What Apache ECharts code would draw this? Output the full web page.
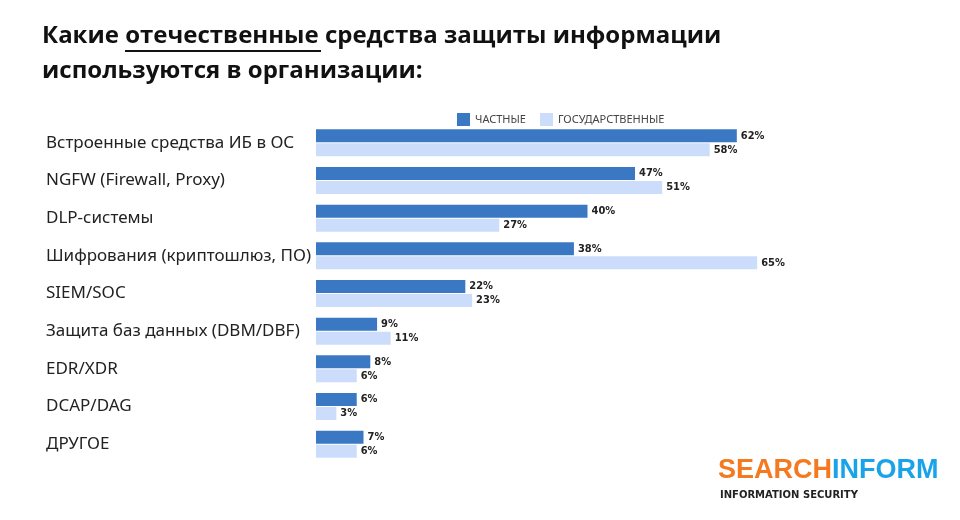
<!DOCTYPE html><html><head><meta charset="utf-8"><script src="https://cdn.jsdelivr.net/npm/echarts@6/dist/echarts.min.js"></script>
<style>html,body{margin:0;background:#fff}#c{width:960px;height:520px}</style></head><body><div id="c"></div><script>
const categories=["Встроенные средства ИБ в ОС","NGFW (Firewall, Proxy)","DLP-системы","Шифрования (криптошлюз, ПО)","SIEM/SOC","Защита баз данных (DBM/DBF)","EDR/XDR","DCAP/DAG","ДРУГОЕ"];
const privateVals=[62,47,40,38,22,9,8,6,7];
const stateVals=[58,51,27,65,23,11,6,3,6];
const c=echarts.init(document.getElementById('c'));
const lbl={show:true,position:'right',distance:4,formatter:'{c}%',fontFamily:'DejaVu Sans Condensed',fontWeight:'bold',fontSize:11,color:'#222'};
c.setOption({animation:false,
legend:{top:108,left:452,icon:'rect',itemWidth:13,itemHeight:13,itemGap:14,textStyle:{fontFamily:'Noto Sans',fontSize:11,color:'#444'},data:['ЧАСТНЫЕ','ГОСУДАРСТВЕННЫЕ']},
grid:{left:316,right:101,top:124,bottom:57},
xAxis:{type:'value',min:0,max:80,show:false},
yAxis:{type:'category',inverse:true,data:categories,axisLine:{show:false},axisTick:{show:false},axisLabel:{align:'left',margin:270,fontFamily:'Noto Sans',fontSize:17,color:'#222',padding:[0,0,6,0]}},
series:[{name:'ЧАСТНЫЕ',type:'bar',data:privateVals,barWidth:13,barGap:'8%',itemStyle:{color:'#3b78c4'},label:lbl},
{name:'ГОСУДАРСТВЕННЫЕ',type:'bar',data:stateVals,barWidth:13,itemStyle:{color:'#ccdcfb'},label:lbl}],
graphic:[
{type:'text',left:42,top:24,style:{text:'Какие отечественные средства защиты информации',font:'bold 24px "Open Sans"',fill:'#111'}},
{type:'text',left:42,top:59,style:{text:'используются в организации:',font:'bold 24px "Open Sans"',fill:'#111'}},
{type:'rect',shape:{x:125,y:50,width:196,height:2},style:{fill:'#111'}},
{type:'text',left:718,top:457,style:{rich:{a:{fill:'#f47a20',font:'bold 27px "Liberation Sans"'},b:{fill:'#1aa3e8',font:'bold 27px "Liberation Sans"'}},text:'{a|SEARCH}{b|INFORM}'}},
{type:'text',left:720,top:490,style:{text:'INFORMATION SECURITY',font:'bold 10px "DejaVu Sans"',fill:'#222'}}
]});
</script></body></html>
